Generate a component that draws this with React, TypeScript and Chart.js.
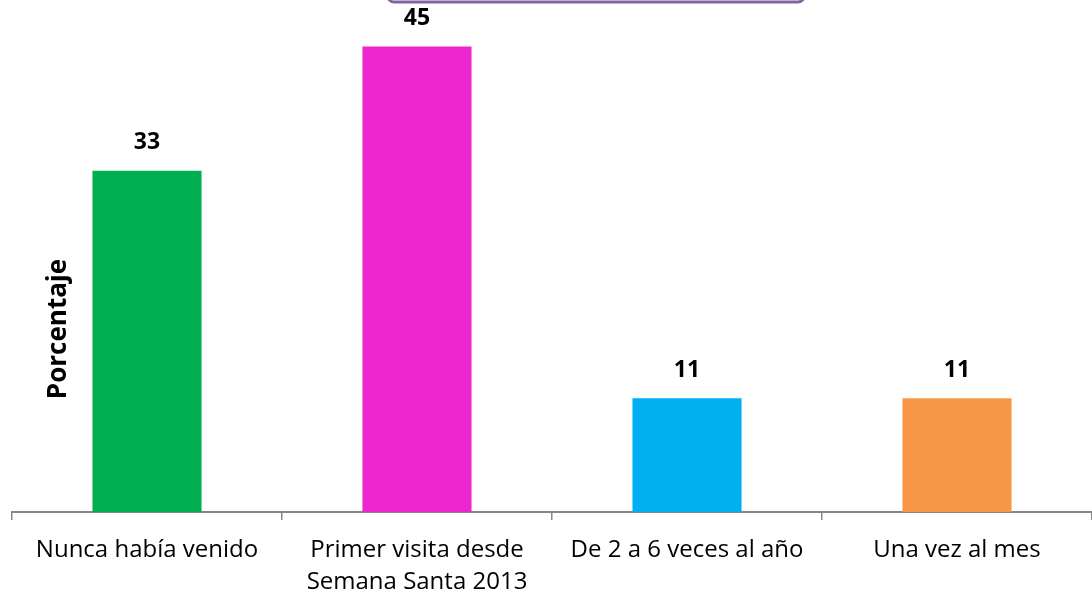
import React, { useEffect, useRef } from "react";
import { Chart, registerables } from "chart.js";

Chart.register(...registerables);

const categories: (string | string[])[] = [
  "Nunca había venido",
  ["Primer visita desde", "Semana Santa 2013"],
  "De 2 a 6 veces al año",
  "Una vez al mes",
];
const values: number[] = [33, 45, 11, 11];
const barColors: string[] = ["#00B050", "#EB26CE", "#00B0F0", "#F79646"];
const yTitle = "Porcentaje";

const FONT = "'Open Sans', sans-serif";

const extras = {
  id: "extras",
  afterDatasetsDraw(chart: any) {
    const ctx = chart.ctx;
    const meta = chart.getDatasetMeta(0);
    ctx.save();
    ctx.fillStyle = "#000";
    ctx.font = `bold 23px ${FONT}`;
    ctx.textAlign = "center";
    ctx.textBaseline = "middle";
    meta.data.forEach((bar: any, i: number) => {
      ctx.fillText(String(values[i]), bar.x, bar.y - 28);
    });
    // y axis title
    ctx.translate(59, 329);
    ctx.rotate(-Math.PI / 2);
    ctx.font = `bold 26px ${FONT}`;
    ctx.fillText(yTitle, 0, 0);
    ctx.restore();
    // purple box (cut off at top)
    ctx.save();
    ctx.strokeStyle = "#8064A2";
    ctx.lineWidth = 3;
    ctx.beginPath();
    (ctx as any).roundRect(388, -30, 416, 32, 6);
    ctx.stroke();
    ctx.restore();
  },
};

export default function App() {
  const ref = useRef<HTMLCanvasElement>(null);
  useEffect(() => {
    if (!ref.current) return;
    const chart = new Chart(ref.current, {
      type: "bar",
      data: {
        labels: categories,
        datasets: [
          {
            data: values,
            backgroundColor: barColors,
            categoryPercentage: 1,
            barPercentage: 0.404,
          },
        ],
      },
      options: {
        responsive: false,
        animation: false,
        layout: { padding: { left: 12, right: 0, top: 0, bottom: 0 } },
        plugins: { legend: { display: false }, tooltip: { enabled: false } },
        scales: {
          x: {
            afterFit: (scale: any) => {
              scale.height = 80;
            },
            grid: {
              display: true,
              drawOnChartArea: false,
              drawTicks: true,
              tickLength: 8,
              color: "#868686",
              lineWidth: 1.5,
              offset: true,
            },
            border: { display: true, color: "#868686", width: 2 },
            ticks: {
              color: "#000",
              font: { family: FONT, size: 24, lineHeight: 1.33 },
              padding: 14,
              maxRotation: 0,
              autoSkip: false,
            },
          },
          y: {
            display: false,
            min: 0,
            max: 49.5,
          },
        },
      },
      plugins: [extras],
    });
    return () => chart.destroy();
  }, []);
  return (
    <div style={{ position: "absolute", left: 0, top: 0, width: 1092, height: 592, background: "#fff" }}>
      <canvas ref={ref} width={1092} height={592} />
    </div>
  );
}
